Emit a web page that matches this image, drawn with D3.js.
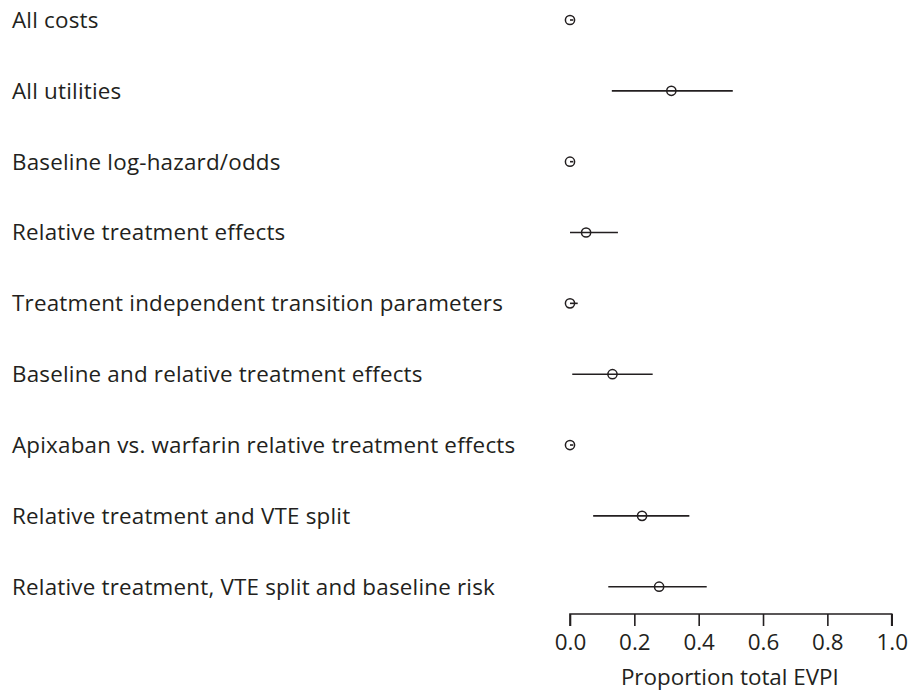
<!DOCTYPE html>
<html>
<head>
<meta charset="utf-8">
<script src="https://cdn.jsdelivr.net/npm/d3@7"></script>
<style>
  html, body { margin: 0; padding: 0; background: #fff; }
  svg { display: block; }
  text { font-family: "Open Sans", "Noto Sans", sans-serif; fill: #231f20; }
</style>
</head>
<body>
<svg id="chart" width="910" height="691"></svg>
<script>
// Parameter groups and their EVPPI as a proportion of total EVPI
const groups = [
  "All costs",
  "All utilities",
  "Baseline log-hazard/odds",
  "Relative treatment effects",
  "Treatment independent transition parameters",
  "Baseline and relative treatment effects",
  "Apixaban vs. warfarin relative treatment effects",
  "Relative treatment and VTE split",
  "Relative treatment, VTE split and baseline risk"
];
const estimate = [0.0, 0.315, 0.0, 0.05, 0.0, 0.132, 0.0, 0.224, 0.277];
const lower    = [0.0, 0.13, 0.0, 0.0, 0.0, 0.007, 0.0, 0.072, 0.119];
const upper    = [0.01, 0.506, 0.01, 0.149, 0.024, 0.257, 0.01, 0.371, 0.425];
const xTicks   = [0, 0.2, 0.4, 0.6, 0.8, 1.0];
const xTitle   = "Proportion total EVPI";

const rows = groups.map((g, i) => ({ g, est: estimate[i], lo: lower[i], hi: upper[i] }));

const svg = d3.select("#chart");
const ink = "#231f20";
const fontSize = 22.4;

const x = d3.scaleLinear().domain([0, 1]).range([570, 891.7]);
const y = d3.scalePoint().domain(groups).range([20, 586.7]);

// Row labels
svg.append("g").selectAll("text")
  .data(rows).join("text")
  .attr("x", 12)
  .attr("y", d => y(d.g))
  .attr("dy", "0.35em")
  .attr("font-size", fontSize)
  .attr("letter-spacing", 0.2)
  .text(d => d.g);

// Interval lines
svg.append("g").selectAll("line")
  .data(rows).join("line")
  .attr("x1", d => x(d.lo))
  .attr("x2", d => x(d.hi))
  .attr("y1", d => y(d.g))
  .attr("y2", d => y(d.g))
  .attr("stroke", ink)
  .attr("stroke-width", 1.6);

// Point estimates
svg.append("g").selectAll("circle")
  .data(rows).join("circle")
  .attr("cx", d => x(d.est))
  .attr("cy", d => y(d.g))
  .attr("r", 4.6)
  .attr("fill", "none")
  .attr("stroke", ink)
  .attr("stroke-width", 1.5);

// Bottom axis
const axis = svg.append("g")
  .attr("transform", "translate(0,614)")
  .call(d3.axisBottom(x).tickValues(xTicks).tickFormat(d3.format(".1f")).tickSize(12).tickPadding(8));
axis.select(".domain").attr("stroke", ink).attr("stroke-width", 1.6).attr("d", `M${x(0)},12V0H${x(1)}V12`);
axis.selectAll(".tick line").attr("stroke", ink).attr("stroke-width", 1.6);
axis.selectAll(".tick text")
  .attr("font-size", fontSize)
  .attr("font-family", "\"Open Sans\", \"Noto Sans\", sans-serif")
  .attr("fill", ink);

svg.append("text")
  .attr("x", (x(0) + x(1)) / 2 - 1)
  .attr("y", 685)
  .attr("text-anchor", "middle")
  .attr("font-size", fontSize)
  .text(xTitle);
</script>
</body>
</html>
